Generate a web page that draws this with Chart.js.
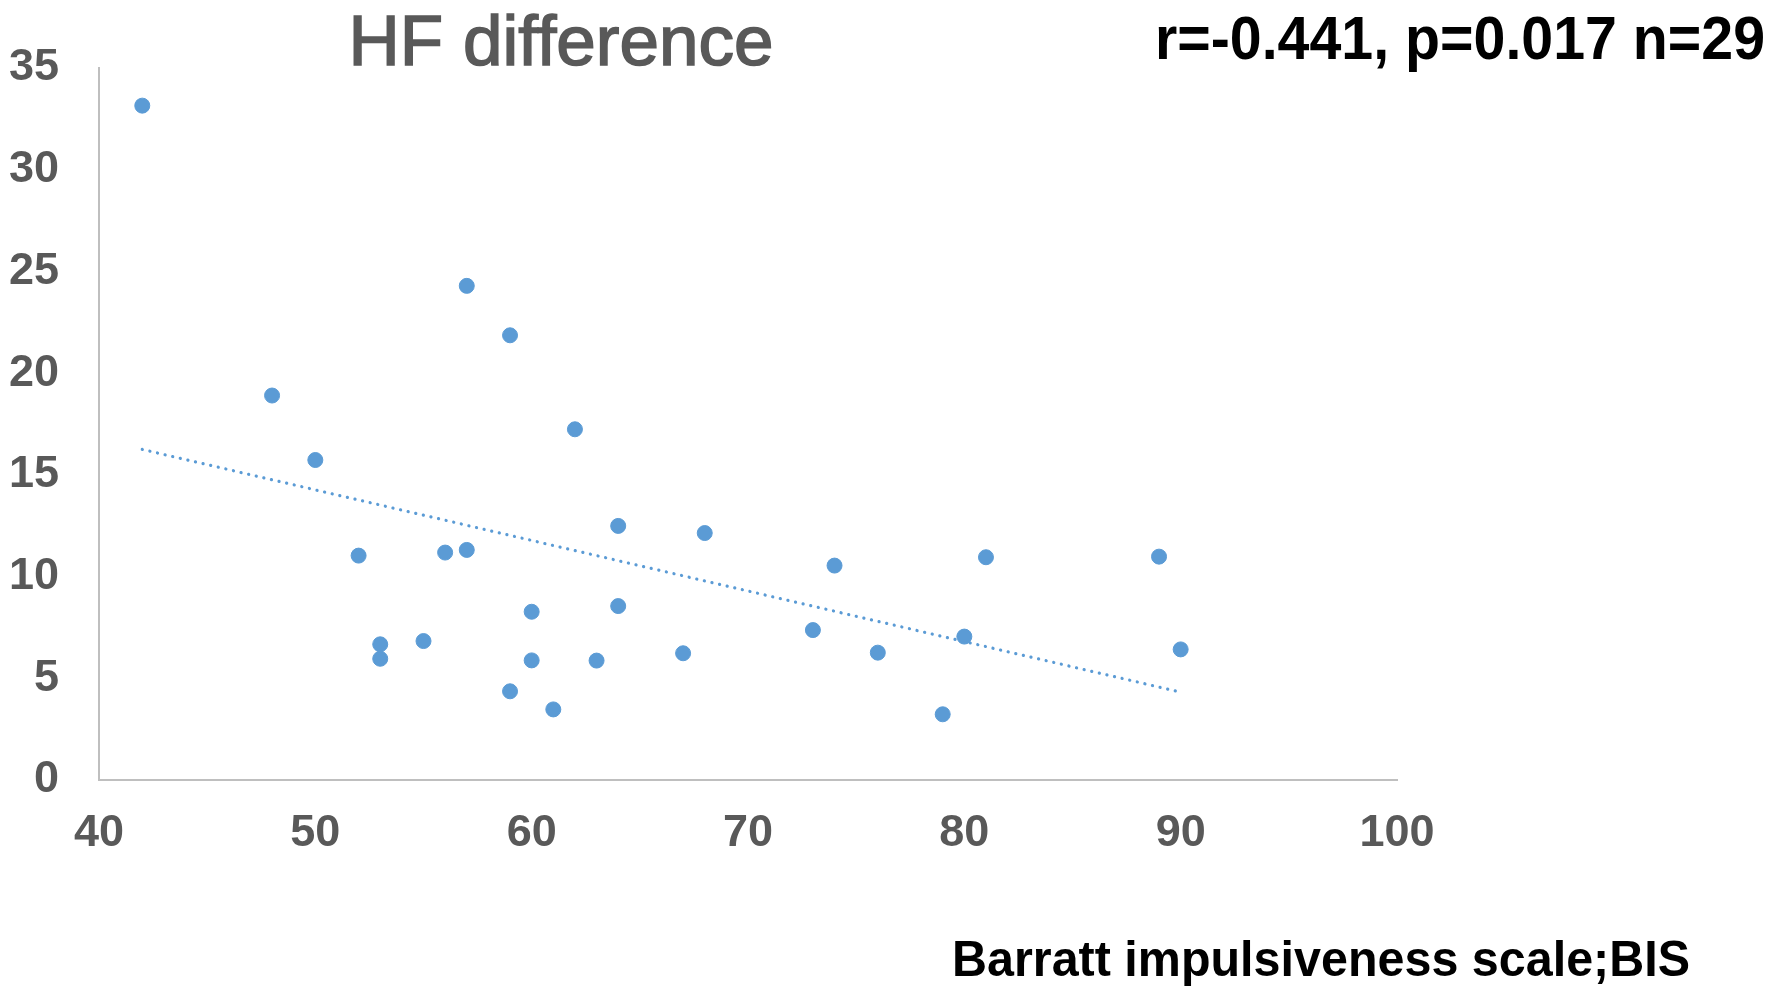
<!DOCTYPE html>
<html>
<head>
<meta charset="utf-8">
<script src="https://cdn.jsdelivr.net/npm/chart.js@4.4.0/dist/chart.umd.min.js"></script>
<style>
  html, body { margin: 0; padding: 0; background: #ffffff; }
  #wrap { width: 1785px; height: 988px; position: relative; }
</style>
</head>
<body>
<div id="wrap"><canvas id="hfChart"></canvas></div>
<script>
// BIS score (x) and HF difference (y) for each subject
const bisScores = [42, 48, 50, 52, 53, 53, 55, 56, 57, 57, 59, 59, 60, 60, 61,
                   62, 63, 64, 64, 67, 68, 73, 74, 76, 79, 80, 81, 89, 90];
const hfDiffs = [33.15, 18.9, 15.73, 11.03, 6.67, 5.96, 6.83, 11.18, 24.29, 11.31, 21.86, 4.36, 8.27, 5.88, 3.47,
                 17.24, 5.87, 12.49, 8.55, 6.23, 12.14, 7.37, 10.54, 6.26, 3.23, 7.05, 10.95, 10.98, 6.42];

// linear trend line end points
const trendX = [42, 90];
const trendY = [16.25, 4.32];

const chartTitle = 'HF difference';
const statsLabel = 'r=-0.441, p=0.017 n=29';
const xAxisTitle = 'Barratt impulsiveness scale;BIS';

const pointColor = '#5B9BD5';
const tickColor = '#595959';
const sansFont = '"Liberation Sans", Arial, sans-serif';

// texts drawn at fixed places on the canvas
const textPlugin = {
    id: 'freeText',
    afterDraw(chart) {
        const ctx = chart.ctx;
        ctx.save();
        ctx.textBaseline = 'alphabetic';

        // title is a bit heavier than regular, so stroke it lightly too
        ctx.fillStyle = tickColor;
        ctx.strokeStyle = tickColor;
        ctx.lineWidth = 1.6;
        ctx.textAlign = 'center';
        ctx.font = '71px ' + sansFont;
        ctx.fillText(chartTitle, 561, 65, 425);
        ctx.strokeText(chartTitle, 561, 65, 425);

        ctx.fillStyle = '#000000';
        ctx.textAlign = 'right';
        ctx.font = 'bold 62px ' + sansFont;
        ctx.fillText(statsLabel, 1765, 59, 610);

        ctx.textAlign = 'left';
        ctx.font = 'bold 50px ' + sansFont;
        ctx.fillText(xAxisTitle, 952, 976, 738);
        ctx.restore();
    }
};

const ctx = document.getElementById('hfChart').getContext('2d');

new Chart(ctx, {
    type: 'scatter',
    data: {
        datasets: [{
            label: 'HF difference',
            data: bisScores.map((x, i) => ({ x: x, y: hfDiffs[i] })),
            backgroundColor: pointColor,
            borderColor: pointColor,
            pointRadius: 7.5,
            pointHoverRadius: 7.5,
            order: 1
        }, {
            label: 'trend',
            type: 'line',
            data: trendX.map((x, i) => ({ x: x, y: trendY[i] })),
            borderColor: pointColor,
            borderWidth: 3.2,
            borderDash: [0.1, 7.7],
            borderCapStyle: 'round',
            pointRadius: 0,
            fill: false,
            order: 2
        }]
    },
    options: {
        responsive: true,
        maintainAspectRatio: false,
        animation: false,
        layout: {
            padding: { top: 68, right: 388, left: 0, bottom: 0 }
        },
        scales: {
            x: {
                type: 'linear',
                min: 40,
                max: 100,
                ticks: {
                    stepSize: 10,
                    color: tickColor,
                    padding: 27,
                    font: { family: sansFont, size: 45, weight: 'bold' },
                    maxRotation: 0
                },
                grid: { display: false, drawTicks: false },
                border: { display: true, color: '#BFBFBF', width: 2 },
                afterFit(scale) { scale.height = 208; }
            },
            y: {
                min: 0,
                max: 35,
                ticks: {
                    stepSize: 5,
                    color: tickColor,
                    padding: 40,
                    font: { family: sansFont, size: 45, weight: 'bold' }
                },
                grid: { display: false, drawTicks: false },
                border: { display: true, color: '#BFBFBF', width: 2 },
                afterFit(scale) { scale.width = 99; }
            }
        },
        plugins: {
            legend: { display: false },
            tooltip: { enabled: false }
        }
    },
    plugins: [textPlugin]
});
</script>
</body>
</html>
